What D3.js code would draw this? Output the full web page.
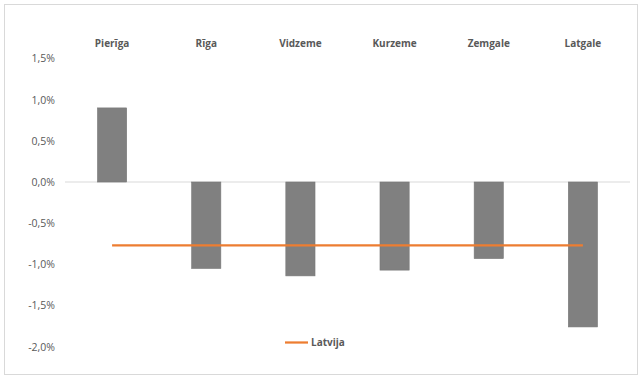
<!DOCTYPE html>
<html>
<head>
<meta charset="utf-8">
<script src="https://cdnjs.cloudflare.com/ajax/libs/d3/7.8.5/d3.min.js"></script>
<style>
html,body{margin:0;padding:0;background:#fff;}
svg{display:block;}
</style>
</head>
<body>
<svg id="chart" width="643" height="381"></svg>
<script>
const categories = ["Pierīga", "Rīga", "Vidzeme", "Kurzeme", "Zemgale", "Latgale"];
const regionValues = [0.90, -1.05, -1.14, -1.07, -0.93, -1.76];
const latvijaValues = [-0.77, -0.77, -0.77, -0.77, -0.77, -0.77];
const yTicks = [1.5, 1.0, 0.5, 0.0, -0.5, -1.0, -1.5, -2.0];
const seriesName = "Latvija";

const svg = d3.select("#chart");
const fontFam = "'Open Sans', 'Liberation Sans', sans-serif";

// outer border
svg.append("rect").attr("x", 4.5).attr("y", 4.5).attr("width", 633).attr("height", 370)
  .attr("fill", "#fff").attr("stroke", "#d9d9d9").attr("stroke-width", 1);

const left = 65, right = 630;
const x = d3.scaleBand().domain(categories).range([left, right]).paddingInner(0.69).paddingOuter(0.345);
const y = d3.scaleLinear().domain([-2.0, 1.5]).range([346.7, 58.5]);

// zero line
svg.append("line").attr("x1", left).attr("x2", right).attr("y1", y(0)).attr("y2", y(0))
  .attr("stroke", "#d9d9d9").attr("stroke-width", 1);

// y axis labels
const yAxis = d3.axisLeft(y).tickValues(yTicks).tickSize(0).tickPadding(0)
  .tickFormat(d => d3.format(".1f")(d).replace(".", ",").replace("−", "-") + "%");
const gy = svg.append("g").attr("transform", "translate(55,0)").call(yAxis);
gy.select(".domain").remove();
gy.selectAll("text").attr("fill", "#595959").style("font-family", fontFam).style("font-size", "10.5px");

// category labels on top
const xAxis = d3.axisTop(x).tickSize(0).tickPadding(0);
const gx = svg.append("g").attr("transform", "translate(0,47)").call(xAxis);
gx.select(".domain").remove();
gx.selectAll("text").attr("fill", "#595959").style("font-family", fontFam)
  .style("font-size", "10px").style("font-weight", "bold");

// bars
svg.append("g").selectAll("rect").data(regionValues).join("rect")
  .attr("x", (d, i) => x(categories[i]))
  .attr("width", x.bandwidth())
  .attr("y", d => y(Math.max(0, d)))
  .attr("height", d => Math.abs(y(d) - y(0)))
  .attr("fill", "#808080").attr("stroke", "#777").attr("stroke-width", 0.6);

// line
const line = d3.line().x((d, i) => x(categories[i]) + x.bandwidth() / 2).y(d => y(d));
svg.append("path").datum(latvijaValues).attr("d", line)
  .attr("fill", "none").attr("stroke", "#ED7D31").attr("stroke-width", 2.25);

// legend
svg.append("line").attr("x1", 285).attr("x2", 308).attr("y1", 342.5).attr("y2", 342.5)
  .attr("stroke", "#ED7D31").attr("stroke-width", 2.25);
svg.append("text").attr("x", 311).attr("y", 342.5).attr("dy", "0.35em").text(seriesName)
  .attr("fill", "#595959").style("font-family", fontFam).style("font-size", "10px").style("font-weight", "bold");
</script>
</body>
</html>
